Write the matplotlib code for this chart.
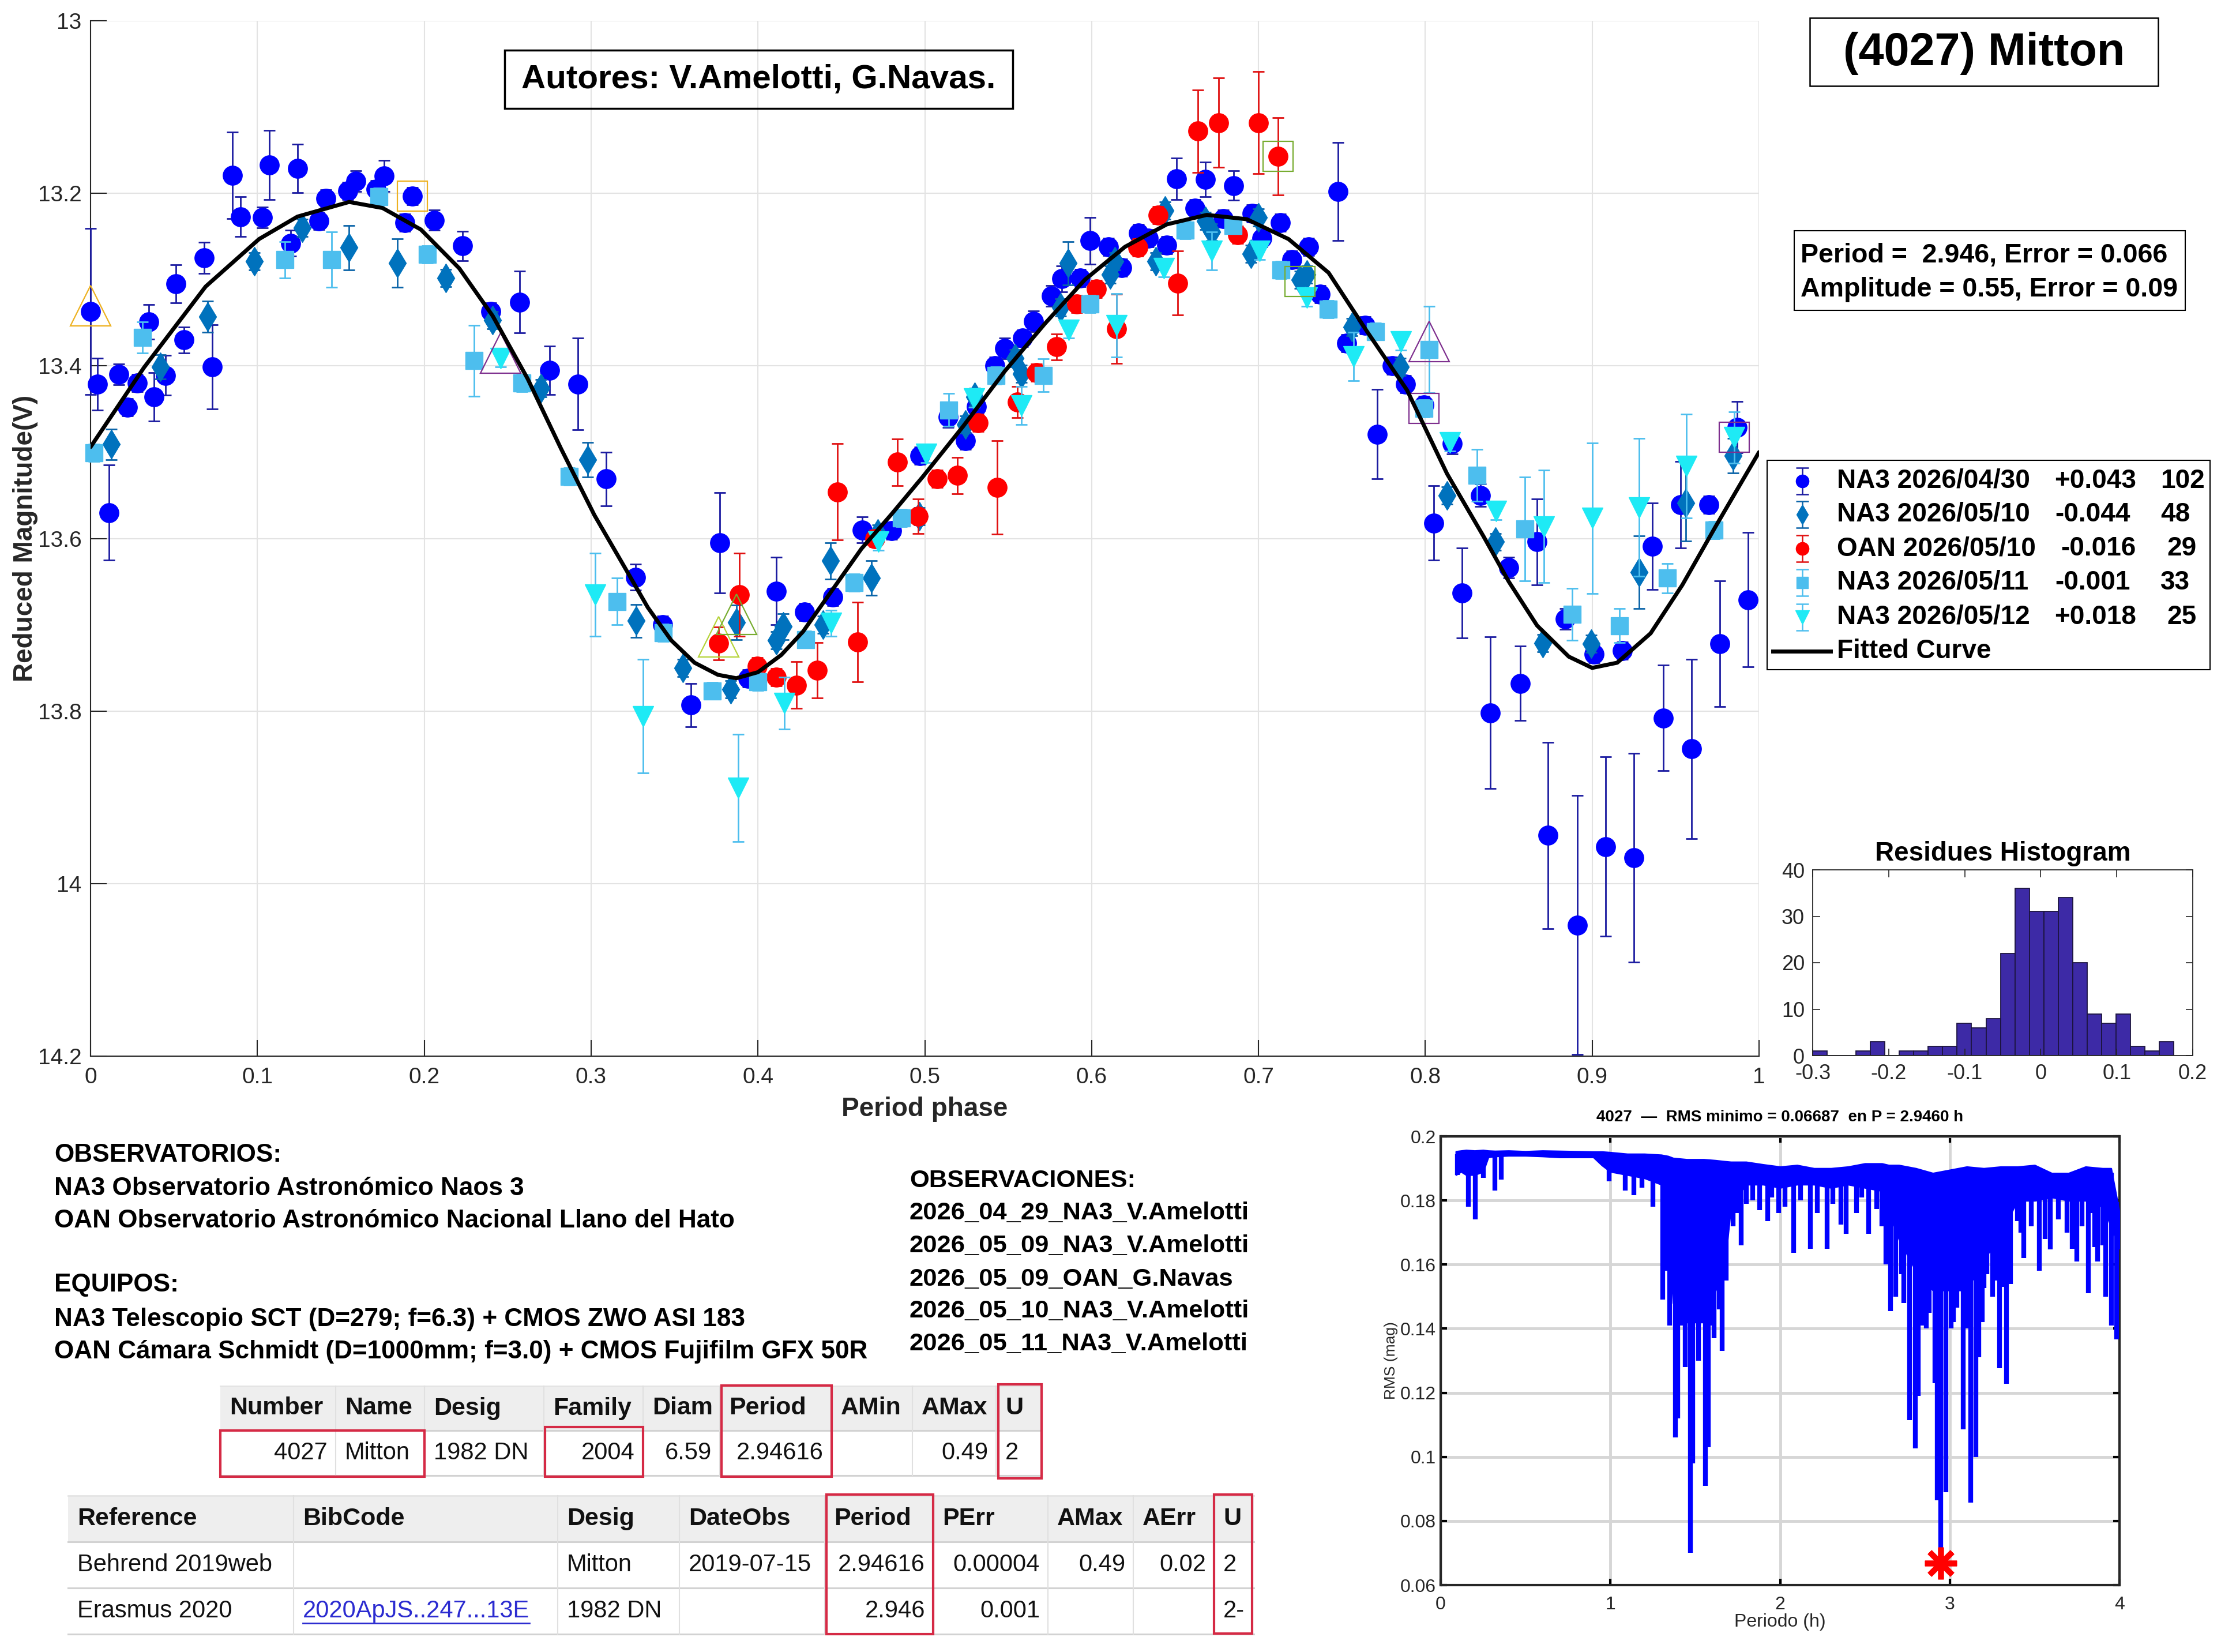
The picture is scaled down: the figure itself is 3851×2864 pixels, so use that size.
import numpy as np
import matplotlib
matplotlib.use("Agg")
import matplotlib.pyplot as plt
from matplotlib import font_manager as fm
from matplotlib.patches import Rectangle

# ======================= DATA =======================
# NA3 2026/04/30 (blue circles)
s1_phase = [0.000, 0.004, 0.011, 0.017, 0.022, 0.028, 0.035, 0.038, 0.045, 0.051,
            0.056, 0.068, 0.073, 0.085, 0.090, 0.103, 0.107, 0.120, 0.124, 0.137,
            0.141, 0.154, 0.159, 0.171, 0.176, 0.1885, 0.193, 0.206, 0.223, 0.240,
            0.257, 0.275, 0.292, 0.309, 0.3265, 0.343, 0.360, 0.377, 0.394, 0.411,
            0.428, 0.445, 0.4625, 0.480, 0.497, 0.514, 0.5245, 0.531, 0.542, 0.548,
            0.5585, 0.565, 0.576, 0.582, 0.593, 0.599, 0.610, 0.618, 0.628, 0.634,
            0.645, 0.651, 0.662, 0.668, 0.679, 0.685, 0.696, 0.702, 0.713, 0.720,
            0.730, 0.737, 0.7475, 0.753, 0.764, 0.771, 0.780, 0.788, 0.799, 0.805,
            0.816, 0.822, 0.833, 0.839, 0.850, 0.857, 0.867, 0.8735, 0.884, 0.891,
            0.901, 0.908, 0.918, 0.925, 0.936, 0.9425, 0.953, 0.9595, 0.970, 0.9765,
            0.987, 0.9935]
s1_mag = [13.337, 13.421, 13.570, 13.410, 13.448, 13.420, 13.349, 13.436, 13.411, 13.305,
          13.370, 13.275, 13.401, 13.179, 13.227, 13.228, 13.167, 13.258, 13.171, 13.232,
          13.206, 13.197, 13.186, 13.195, 13.180, 13.234, 13.203, 13.231, 13.261, 13.337,
          13.326, 13.405, 13.421, 13.531, 13.645, 13.700, 13.793, 13.605, 13.762, 13.661,
          13.685, 13.668, 13.590, 13.591, 13.504, 13.459, 13.487, 13.447, 13.400, 13.380,
          13.368, 13.348, 13.319, 13.299, 13.298, 13.255, 13.262, 13.286, 13.246, 13.252,
          13.260, 13.183, 13.217, 13.184, 13.229, 13.191, 13.223, 13.252, 13.234, 13.277,
          13.262, 13.317, 13.198, 13.374, 13.353, 13.479, 13.400, 13.421, 13.445, 13.582,
          13.490, 13.663, 13.550, 13.802, 13.634, 13.768, 13.604, 13.944, 13.693, 14.048,
          13.734, 13.957, 13.730, 13.970, 13.609, 13.808, 13.561, 13.844, 13.561, 13.722,
          13.471, 13.671]
s1_err = [0.096, 0.03, 0.055, 0.012, 0.01, 0.01, 0.02, 0.028, 0.023, 0.022,
          0.015, 0.018, 0.049, 0.05, 0.023, 0.012, 0.04, 0.015, 0.028, 0.01,
          0.01, 0.01, 0.012, 0.01, 0.018, 0.01, 0.01, 0.012, 0.017, 0.01,
          0.036, 0.028, 0.053, 0.031, 0.015, 0.01, 0.025, 0.058, 0.01, 0.039,
          0.01, 0.01, 0.015, 0.01, 0.01, 0.012, 0.01, 0.01, 0.01, 0.012,
          0.01, 0.012, 0.012, 0.015, 0.01, 0.027, 0.01, 0.01, 0.01, 0.01,
          0.01, 0.024, 0.01, 0.02, 0.01, 0.017, 0.01, 0.01, 0.01, 0.01,
          0.01, 0.01, 0.057, 0.01, 0.01, 0.052, 0.01, 0.01, 0.01, 0.043,
          0.012, 0.052, 0.013, 0.088, 0.012, 0.043, 0.05, 0.108, 0.012, 0.15,
          0.01, 0.104, 0.01, 0.121, 0.05, 0.061, 0.05, 0.104, 0.01, 0.073,
          0.03, 0.078]

# NA3 2026/05/10 (diamonds)
s2_phase = [0.0126, 0.0417, 0.070, 0.098, 0.127, 0.155, 0.184, 0.213, 0.241, 0.270,
            0.298, 0.327, 0.355, 0.3836, 0.387, 0.411, 0.415, 0.439, 0.4435, 0.468,
            0.472, 0.4966, 0.5245, 0.530, 0.554, 0.558, 0.5815, 0.586, 0.611, 0.614,
            0.6386, 0.644, 0.668, 0.672, 0.6956, 0.700, 0.725, 0.729, 0.756, 0.785,
            0.813, 0.842, 0.8704, 0.8995, 0.928, 0.956, 0.9845]
s2_mag = [13.491, 13.401, 13.343, 13.279, 13.240, 13.263, 13.281, 13.298, 13.347, 13.426,
          13.509, 13.6955, 13.750, 13.775, 13.697, 13.718, 13.702, 13.700, 13.626, 13.646,
          13.594, 13.574, 13.468, 13.436, 13.391, 13.409, 13.332, 13.281, 13.294, 13.279,
          13.279, 13.220, 13.232, 13.245, 13.270, 13.228, 13.300, 13.294, 13.355, 13.401,
          13.550, 13.604, 13.7215, 13.722, 13.639, 13.559, 13.504]
s2_err = [0.018, 0.014, 0.018, 0.01, 0.01, 0.026, 0.028, 0.01, 0.01, 0.01,
          0.02, 0.019, 0.01, 0.01, 0.02, 0.01, 0.015, 0.01, 0.021, 0.02,
          0.01, 0.01, 0.01, 0.01, 0.01, 0.01, 0.01, 0.025, 0.01, 0.01,
          0.01, 0.01, 0.01, 0.01, 0.01, 0.01, 0.01, 0.01, 0.01, 0.01,
          0.01, 0.01, 0.01, 0.01, 0.042, 0.044, 0.02]

# OAN 2026/05/10 (red circles)
s3_phase = [0.3764, 0.389, 0.3995, 0.411, 0.423, 0.4355, 0.4476, 0.4597, 0.470, 0.4835,
            0.496, 0.5075, 0.5197, 0.532, 0.5434, 0.5556, 0.567, 0.579, 0.591, 0.603,
            0.615, 0.6277, 0.6398, 0.6515, 0.6637, 0.676, 0.6876, 0.6998, 0.7117]
s3_mag = [13.7215, 13.665, 13.748, 13.761, 13.770, 13.753, 13.546, 13.720, 13.600, 13.5115,
          13.5745, 13.531, 13.527, 13.466, 13.541, 13.442, 13.408, 13.378, 13.328, 13.311,
          13.357, 13.263, 13.2255, 13.304, 13.128, 13.118, 13.248, 13.118, 13.157]
s3_err = [0.019, 0.048, 0.01, 0.01, 0.027, 0.032, 0.056, 0.046, 0.01, 0.027,
          0.02, 0.01, 0.021, 0.01, 0.054, 0.018, 0.01, 0.015, 0.01, 0.01,
          0.04, 0.01, 0.01, 0.037, 0.048, 0.052, 0.01, 0.059, 0.045]

# NA3 2026/05/11 (light-blue squares)
s4_phase = [0.002, 0.031, 0.1164, 0.1445, 0.173, 0.2017, 0.230, 0.2586, 0.287, 0.3155,
            0.3434, 0.3727, 0.400, 0.4286, 0.4578, 0.486, 0.5143, 0.5427, 0.571, 0.599,
            0.656, 0.6847, 0.7133, 0.7417, 0.770, 0.799, 0.8024, 0.831, 0.8597, 0.888,
            0.9165, 0.945, 0.973]
s4_mag = [13.501, 13.367, 13.277, 13.277, 13.204, 13.271, 13.394, 13.420, 13.528, 13.673,
          13.7096, 13.7765, 13.766, 13.717, 13.651, 13.576, 13.451, 13.411, 13.411, 13.328,
          13.2425, 13.237, 13.289, 13.334, 13.360, 13.449, 13.381, 13.527, 13.589, 13.688,
          13.701, 13.646, 13.590]
s4_err = [0.01, 0.018, 0.021, 0.032, 0.01, 0.01, 0.041, 0.01, 0.01, 0.027,
          0.01, 0.01, 0.01, 0.01, 0.01, 0.01, 0.019, 0.01, 0.019, 0.01,
          0.01, 0.01, 0.01, 0.01, 0.01, 0.01, 0.05, 0.03, 0.06, 0.03,
          0.02, 0.017, 0.01]

# NA3 2026/05/12 (cyan down triangles)
s5_phase = [0.2457, 0.3026, 0.331, 0.3882, 0.416, 0.444, 0.4723, 0.501, 0.5294, 0.558,
            0.5864, 0.615, 0.6434, 0.672, 0.7005, 0.729, 0.757, 0.7854, 0.8146, 0.8425,
            0.871, 0.900, 0.928, 0.9566, 0.9852]
s5_mag = [13.391, 13.665, 13.806, 13.889, 13.791, 13.698, 13.604, 13.502, 13.438, 13.446,
          13.358, 13.353, 13.287, 13.267, 13.267, 13.321, 13.389, 13.372, 13.489, 13.568,
          13.586, 13.5766, 13.564, 13.516, 13.483]
s5_err = [0.01, 0.048, 0.066, 0.062, 0.03, 0.015, 0.01, 0.01, 0.01, 0.022,
          0.01, 0.037, 0.01, 0.022, 0.01, 0.01, 0.028, 0.01, 0.01, 0.01,
          0.065, 0.087, 0.08, 0.06, 0.03]

series_names = ['NA3 2026/04/30', 'NA3 2026/05/10', 'OAN 2026/05/10',
                'NA3 2026/05/11', 'NA3 2026/05/12']
series_offsets = ['+0.043', '-0.044', '-0.016', '-0.001', '+0.018']
series_counts = ['102', '48', '29', '33', '25']

# highlighted (open) markers
hl_phase = [0.000, 0.193, 0.2457, 0.3764, 0.387, 0.7117, 0.725, 0.8024, 0.799, 0.985]
hl_mag = [13.330, 13.203, 13.385, 13.714, 13.688, 13.157, 13.302, 13.372, 13.449, 13.483]
hl_marker = ['^', 's', '^', '^', '^', 's', 's', '^', 's', 's']
hl_color = ['#EDB120', '#EDB120', '#7E2F8E', '#B5D33A', '#77AC30',
            '#77AC30', '#77AC30', '#7E2F8E', '#7E2F8E', '#7E2F8E']

# fitted curve
fit_phase = [0.000, 0.032, 0.069, 0.101, 0.124, 0.155, 0.175, 0.198, 0.221, 0.241,
             0.262, 0.282, 0.302, 0.320, 0.334, 0.348, 0.362, 0.376, 0.387, 0.400,
             0.414, 0.427, 0.443, 0.462, 0.480, 0.499, 0.523, 0.548, 0.572, 0.596,
             0.620, 0.645, 0.669, 0.693, 0.718, 0.742, 0.765, 0.789, 0.813, 0.835,
             0.850, 0.867, 0.886, 0.900, 0.915, 0.935, 0.954, 0.974, 1.000]
fit_mag = [13.494, 13.402, 13.308, 13.253, 13.227, 13.210, 13.217, 13.242, 13.287, 13.342,
           13.415, 13.496, 13.573, 13.633, 13.680, 13.718, 13.744, 13.758, 13.762, 13.755,
           13.735, 13.708, 13.664, 13.612, 13.572, 13.528, 13.470, 13.406, 13.351, 13.300,
           13.262, 13.236, 13.225, 13.230, 13.253, 13.292, 13.360, 13.428, 13.525, 13.598,
           13.650, 13.701, 13.737, 13.750, 13.744, 13.710, 13.654, 13.586, 13.500]

period_text = ['Period =  2.946, Error = 0.066', 'Amplitude = 0.55, Error = 0.09']
object_title = '(4027) Mitton'
authors = 'Autores: V.Amelotti, G.Navas.'

# residues histogram
hist_counts = [1, 0, 0, 1, 3, 0, 1, 1, 2, 2, 7, 6, 8, 22, 36, 31, 31, 34, 20, 9, 7, 9, 2, 1, 3]
hist_start = -0.3
hist_width = 0.019

# RMS periodogram: dense band (top / lower edge) plus individual dips
per_env = [0.09, 0.12, 0.15, 0.2, 0.25, 0.28, 0.32, 0.4, 0.5, 0.6,
           0.7, 0.8, 0.9, 0.95, 1.0, 1.1, 1.2, 1.3, 1.34, 1.37,
           1.45, 1.55, 1.62, 1.67, 1.71, 1.8, 1.9, 2.0, 2.1, 2.2,
           2.3, 2.4, 2.5, 2.6, 2.64, 2.7, 2.8, 2.9, 3.0, 3.1,
           3.2, 3.3, 3.36, 3.4, 3.5, 3.6, 3.7, 3.8, 3.9, 3.95, 4.0]
rms_top = [0.1953, 0.1955, 0.1957, 0.1955, 0.1957, 0.1955, 0.1954, 0.1955, 0.1953, 0.1955,
           0.1954, 0.1953, 0.1952, 0.1952, 0.1950, 0.1945, 0.1945, 0.1942, 0.1938, 0.1932,
           0.1928, 0.1928, 0.1925, 0.1922, 0.1920, 0.1920, 0.1912, 0.1905, 0.1910, 0.1900,
           0.1900, 0.1905, 0.1915, 0.1915, 0.1910, 0.1910, 0.1900, 0.1885, 0.1895, 0.1905,
           0.1900, 0.1905, 0.1905, 0.1905, 0.1910, 0.1885, 0.1885, 0.1905, 0.1900, 0.1900, 0.1760]
rms_band = [0.188, 0.189, 0.188, 0.188, 0.189, 0.1935, 0.1938, 0.1940, 0.1940, 0.1938,
            0.1935, 0.1935, 0.1935, 0.1910, 0.1890, 0.1880, 0.1870, 0.1850, 0.1700, 0.1480,
            0.1420, 0.1420, 0.1520, 0.1580, 0.1780, 0.1850, 0.1850, 0.1840, 0.1850, 0.1850,
            0.1840, 0.1850, 0.1840, 0.1830, 0.1760, 0.1680, 0.1580, 0.1520, 0.1520, 0.1520,
            0.1620, 0.1680, 0.1760, 0.1800, 0.1800, 0.1810, 0.1800, 0.1800, 0.1780, 0.1720, 0.1650]
spike_per = [0.098, 0.163, 0.205, 0.25, 0.319, 0.358, 0.992, 1.089, 1.138, 1.187,
             1.252, 1.307, 1.333, 1.350, 1.382, 1.398, 1.420, 1.440, 1.470, 1.486,
             1.519, 1.520, 1.561, 1.577, 1.600, 1.610, 1.640, 1.659, 1.681, 1.724,
             1.750, 1.772, 1.800, 1.837, 1.880, 1.928, 1.950, 1.993, 2.030, 2.081,
             2.120, 2.179, 2.220, 2.276, 2.310, 2.358, 2.390, 2.450, 2.480, 2.520,
             2.569, 2.600, 2.624, 2.650, 2.680, 2.715, 2.730, 2.764, 2.797, 2.813,
             2.840, 2.862, 2.880, 2.911, 2.927, 2.946, 2.976, 3.008, 3.020, 3.040,
             3.080, 3.100, 3.122, 3.154, 3.171, 3.190, 3.203, 3.220, 3.252, 3.270,
             3.294, 3.310, 3.333, 3.340, 3.359, 3.398, 3.420, 3.437, 3.480, 3.528,
             3.560, 3.593, 3.640, 3.691, 3.720, 3.750, 3.780, 3.815, 3.840, 3.854,
             3.870, 3.900, 3.919, 3.951, 3.984]
spike_rms = [0.188, 0.178, 0.174, 0.187, 0.183, 0.1865, 0.186, 0.183, 0.1816, 0.184,
             0.178, 0.149, 0.158, 0.141, 0.106, 0.112, 0.141, 0.128, 0.070, 0.098,
             0.130, 0.141, 0.091, 0.103, 0.141, 0.137, 0.146, 0.133, 0.155, 0.172,
             0.176, 0.166, 0.179, 0.180, 0.177, 0.1735, 0.181, 0.176, 0.178, 0.1636,
             0.180, 0.165, 0.176, 0.165, 0.179, 0.1724, 0.1695, 0.176, 0.181, 0.1695,
             0.1774, 0.172, 0.160, 0.1454, 0.150, 0.157, 0.148, 0.1115, 0.1027, 0.119,
             0.141, 0.140, 0.145, 0.123, 0.0865, 0.0667, 0.089, 0.140, 0.142, 0.1465,
             0.1085, 0.140, 0.0857, 0.100, 0.131, 0.142, 0.1526, 0.157, 0.150, 0.155,
             0.1276, 0.153, 0.1228, 0.163, 0.154, 0.1735, 0.170, 0.162, 0.172, 0.158,
             0.168, 0.1647, 0.174, 0.170, 0.165, 0.161, 0.172, 0.151, 0.176, 0.1655,
             0.161, 0.166, 0.150, 0.141, 0.1366]
best_period = 2.946
best_rms = 0.06687
asteroid_number = '4027'

# text blocks
observatorios = ['NA3 Observatorio Astronómico Naos 3',
                 'OAN Observatorio Astronómico Nacional Llano del Hato']
equipos = ['NA3 Telescopio SCT (D=279; f=6.3) + CMOS ZWO ASI 183',
           'OAN Cámara Schmidt (D=1000mm; f=3.0) + CMOS Fujifilm GFX 50R']
observaciones = ['2026_04_29_NA3_V.Amelotti', '2026_05_09_NA3_V.Amelotti',
                 '2026_05_09_OAN_G.Navas', '2026_05_10_NA3_V.Amelotti',
                 '2026_05_11_NA3_V.Amelotti']

# tables
t1_header = ['Number', 'Name', 'Desig', 'Family', 'Diam', 'Period', 'AMin', 'AMax', 'U']
t1_row = ['4027', 'Mitton', '1982 DN', '2004', '6.59', '2.94616', '', '0.49', '2']
t2_header = ['Reference', 'BibCode', 'Desig', 'DateObs', 'Period', 'PErr', 'AMax', 'AErr', 'U']
t2_rows = [['Behrend 2019web', '', 'Mitton', '2019-07-15', '2.94616', '0.00004', '0.49', '0.02', '2'],
           ['Erasmus 2020', '2020ApJS..247...13E', '1982 DN', '', '2.946', '0.001', '', '', '2-']]

# ======================= FIGURE =======================
W, H, DPI = 3851, 2864, 100
_names = {f.name for f in fm.fontManager.ttflist}


def pick(*cands):
    for c in cands:
        if c in _names:
            return c
    return 'DejaVu Sans'


ARIAL = pick('Liberation Sans', 'Arimo', 'DejaVu Sans')
NARROW = pick('Liberation Sans Narrow', 'Liberation Sans', 'DejaVu Sans')
plt.rcParams['font.family'] = [NARROW, 'DejaVu Sans']
DARK = '#262626'

fig = plt.figure(figsize=(W / DPI, H / DPI), dpi=DPI, facecolor='white')
renderer = fig.canvas.get_renderer()


def rect_px(x0, y0, x1, y1):
    return [x0 / W, 1 - y1 / H, (x1 - x0) / W, (y1 - y0) / H]


# ---------------- main light-curve axes ----------------
ax = fig.add_axes(rect_px(157, 36, 3050, 1831))
styles = [
    dict(fmt='o', ms=24, mfc='#0000FF', mec='#0000FF', ecolor='#1B1BA0'),
    dict(fmt='d', ms=25, mfc='#0072BD', mec='#0072BD', ecolor='#0A64A8'),
    dict(fmt='o', ms=24, mfc='#FF0000', mec='#FF0000', ecolor='#E01010'),
    dict(fmt='s', ms=21, mfc='#4DBEEE', mec='#4DBEEE', ecolor='#4DBEEE'),
    dict(fmt='v', ms=26, mfc='#1EEAF5', mec='#1EEAF5', ecolor='#4DBEEE'),
]
all_series = [(s1_phase, s1_mag, s1_err), (s2_phase, s2_mag, s2_err),
              (s3_phase, s3_mag, s3_err), (s4_phase, s4_mag, s4_err),
              (s5_phase, s5_mag, s5_err)]
for i, ((ph, mg, er), st) in enumerate(zip(all_series, styles)):
    ax.errorbar(ph, mg, yerr=er, elinewidth=2, capsize=7, capthick=2,
                zorder=3 + i, clip_on=False, **st)
for p, m, mk, c in zip(hl_phase, hl_mag, hl_marker, hl_color):
    ax.plot([p], [m], linestyle='none', marker=mk, ms=50 if mk == '^' else 37,
            mfc='none', mec=c, mew=1.6, zorder=15, clip_on=False)
ax.plot(fit_phase, fit_mag, color='black', lw=5, zorder=20, solid_capstyle='round')

ax.set_xlim(0, 1)
ax.set_ylim(14.2, 13.0)
ax.set_xticks(np.arange(0, 1.01, 0.1))
ax.set_xticklabels(['0', '0.1', '0.2', '0.3', '0.4', '0.5', '0.6', '0.7', '0.8', '0.9', '1'])
ax.set_yticks([13.0, 13.2, 13.4, 13.6, 13.8, 14.0, 14.2])
ax.set_yticklabels(['13', '13.2', '13.4', '13.6', '13.8', '14', '14.2'])
ax.grid(True, color='#E3E3E3', lw=1.5)
ax.set_axisbelow(True)
for sp in ['top', 'right']:
    ax.spines[sp].set_visible(False)
for sp in ['left', 'bottom']:
    ax.spines[sp].set_color(DARK)
    ax.spines[sp].set_linewidth(1.5)
ax.tick_params(direction='in', length=20, width=1.5, colors=DARK, labelsize=28)
ax.tick_params(axis='x', pad=14)
ax.tick_params(axis='y', pad=11)
ax.set_xlabel('Period phase', family=ARIAL, fontweight='bold', fontsize=33,
              color=DARK, va='center')
ax.xaxis.set_label_coords(0.5, -0.0513)
ax.set_ylabel('Reduced Magnitude(V)', family=ARIAL, fontweight='bold', fontsize=33,
              color=DARK, va='center')
ax.yaxis.set_label_coords(-0.039, 0.5)

# ---------------- residues histogram ----------------
hax = fig.add_axes(rect_px(3143, 1508, 3802, 1830))
hist_left = [hist_start + i * hist_width for i in range(len(hist_counts))]
hax.bar(hist_left, hist_counts, width=hist_width, align='edge',
        color='#3D2AA6', edgecolor='#1C1440', lw=1.3)
hax.set_xlim(-0.3, 0.2)
hax.set_ylim(0, 40)
hax.set_xticks([-0.3, -0.2, -0.1, 0, 0.1, 0.2])
hax.set_xticklabels(['-0.3', '-0.2', '-0.1', '0', '0.1', '0.2'])
hax.set_yticks([0, 10, 20, 30, 40])
hax.tick_params(direction='in', length=9, width=1.2, colors=DARK, labelsize=26,
                top=True, right=True)
hax.tick_params(axis='x', pad=10)
hax.tick_params(axis='y', pad=10)
for sp in hax.spines.values():
    sp.set_color(DARK)
    sp.set_linewidth(1.3)
hax.text(0.5, 1.088, 'Residues Histogram', transform=hax.transAxes, ha='center',
         va='center', family=ARIAL, fontweight='bold', fontsize=33, color='black')

# ---------------- RMS periodogram ----------------
pax = fig.add_axes(rect_px(2498, 1970, 3675, 2748))
pax.fill_between(per_env, rms_band, rms_top, color='#0000FF', lw=2, zorder=3)
spk_top = np.interp(spike_per, per_env, rms_top) - 0.001
pax.vlines(spike_per, spike_rms, spk_top, color='#0000FF', lw=6, zorder=3)
pax.plot([best_period], [best_rms], linestyle='none', marker=(8, 2, 0), ms=40,
         mec='#FF0000', mew=7, zorder=5, clip_on=False)
pax.set_xlim(0, 4)
pax.set_ylim(0.06, 0.2)
pax.set_xticks([0, 1, 2, 3, 4])
pax.set_yticks([0.06, 0.08, 0.10, 0.12, 0.14, 0.16, 0.18, 0.20])
pax.set_yticklabels(['0.06', '0.08', '0.1', '0.12', '0.14', '0.16', '0.18', '0.2'])
pax.grid(True, color='#D6D6D6', lw=3.5)
pax.set_axisbelow(True)
pax.tick_params(direction='in', length=8, width=3, colors='black', labelsize=23,
                top=True, right=True, labelcolor=DARK)
pax.tick_params(axis='x', pad=14)
pax.tick_params(axis='y', pad=6)
for sp in pax.spines.values():
    sp.set_color(DARK)
    sp.set_linewidth(3)
pax.text(0.5, 1.0 + 33 / 778,
         f'{asteroid_number}  \u2014  RMS minimo = {best_rms:.5f}  en P = {best_period:.4f} h',
         transform=pax.transAxes, ha='center', va='center', fontweight='bold',
         fontsize=20, color='black')
pax.set_xlabel('Periodo (h)', fontsize=23, color=DARK, va='center')
pax.xaxis.set_label_coords(0.5, -0.082)
pax.set_ylabel('RMS (mag)', family=ARIAL, fontsize=19, color=DARK, va='center')
pax.yaxis.set_label_coords(-0.073, 0.5)

# ---------------- overlay (boxes, texts, tables) ----------------
ov = fig.add_axes([0, 0, 1, 1], zorder=10)
ov.set_xlim(0, W)
ov.set_ylim(H, 0)
ov.axis('off')


def box(x0, y0, x1, y1, lw=1.5, ec='black', fc='none', z=1):
    ov.add_patch(Rectangle((x0, y0), x1 - x0, y1 - y0, lw=lw, ec=ec, fc=fc, zorder=z))


def width_of(t):
    return t.get_window_extent(renderer=renderer).width


def fitted_size(s, target, size=30, **kw):
    t = ov.text(0, 0, s, fontsize=size, **kw)
    w = width_of(t)
    t.remove()
    return size * target / w


# title box
box(3138, 31, 3742, 149, lw=1.8)
ov.text(3440, 92, object_title, ha='center', va='center', family=ARIAL,
        fontweight='bold', fontsize=57, color='black')

# authors box
box(875, 87, 1756, 188, lw=2.5)
fs = fitted_size(authors, 822, family=ARIAL, fontweight='bold')
ov.text(1315, 138, authors, ha='center', va='center', family=ARIAL,
        fontweight='bold', fontsize=fs, color='black')

# period box
box(3111, 400, 3789, 538, lw=1.5)
fs = fitted_size(period_text[1], 654, family=ARIAL, fontweight='bold')
for yy, s in zip([443, 502], period_text):
    ov.text(3122, yy, s, ha='left', va='center', family=ARIAL, fontweight='bold',
            fontsize=fs, color='black')

# legend
box(3064, 798, 3832, 1161, lw=1.5)
row_y = [834, 892, 951, 1010, 1070, 1129]
off_x = [3562, 3563, 3573, 3563, 3562]
cnt_x = [3746, 3746, 3757, 3746, 3757]
leg_ms = [16, 17, 16, 14, 17]
for i, st in enumerate(styles):
    ov.errorbar([3125], [row_y[i]], yerr=[23], fmt=st['fmt'], ms=leg_ms[i],
                mfc=st['mfc'], mec=st['mec'], ecolor=st['ecolor'], elinewidth=1.8,
                capsize=8, capthick=1.8)
    ov.text(3185, row_y[i], series_names[i], ha='left', va='center', family=ARIAL,
            fontweight='bold', fontsize=33, color='black')
    ov.text(off_x[i], row_y[i], series_offsets[i], ha='left', va='center', family=ARIAL,
            fontweight='bold', fontsize=33, color='black')
    ov.text(cnt_x[i], row_y[i], series_counts[i], ha='left', va='center', family=ARIAL,
            fontweight='bold', fontsize=33, color='black')
ov.plot([3074, 3174], [row_y[5], row_y[5]], color='black', lw=5)
ov.text(3185, row_y[5], 'Fitted Curve', ha='left', va='center', family=ARIAL,
        fontweight='bold', fontsize=33, color='black')

# left info block
fs = fitted_size(observatorios[1], 1182, family=ARIAL, fontweight='bold')
left_lines = [('OBSERVATORIOS:', 2003), (observatorios[0], 2060), (observatorios[1], 2117),
              ('EQUIPOS:', 2228), (equipos[0], 2287), (equipos[1], 2343)]
for s, yy in left_lines:
    ov.text(94, yy, s, ha='left', va='center', family=ARIAL, fontweight='bold',
            fontsize=fs, color='black')

# observaciones block
fs = fitted_size(observaciones[0], 587, family=ARIAL, fontweight='bold')
ov.text(1577, 2047, 'OBSERVACIONES:', ha='left', va='center', family=ARIAL,
        fontweight='bold', fontsize=fs, color='black')
for s, yy in zip(observaciones, [2103, 2160, 2218, 2273, 2330]):
    ov.text(1577, yy, s, ha='left', va='center', family=ARIAL, fontweight='bold',
            fontsize=fs, color='black')


# tables
def draw_table(col_x, row_edges, header, rows, aligns, fsz=30):
    x0, x1 = col_x[0], col_x[-1]
    ov.add_patch(Rectangle((x0, row_edges[0]), x1 - x0, row_edges[1] - row_edges[0],
                           fc='#EEEEEE', ec='none', zorder=1))
    for yy in row_edges[1:]:
        ov.plot([x0, x1], [yy, yy], color='#D2D2D2', lw=2.2, zorder=2)
    ov.plot([x0, x1], [row_edges[0], row_edges[0]], color='#E4E4E4', lw=2, zorder=2)
    for xx in col_x[1:-1]:
        ov.plot([xx, xx], [row_edges[0], row_edges[-1]], color='#E0E0E0', lw=1.5, zorder=2)
    yc = (row_edges[0] + row_edges[1]) / 2
    for j, h in enumerate(header):
        ov.text(col_x[j] + 16, yc, h, ha='left', va='center', family=ARIAL,
                fontweight='bold', fontsize=fsz + 1, color='#111111', zorder=3)
    texts = []
    for r, row in enumerate(rows):
        yc = (row_edges[r + 1] + row_edges[r + 2]) / 2
        for j, v in enumerate(row):
            if not v:
                continue
            if aligns[j] == 'r':
                t = ov.text(col_x[j + 1] - 14, yc, v, ha='right', va='center',
                            family=ARIAL, fontsize=fsz, color='#111111', zorder=3)
            else:
                t = ov.text(col_x[j] + 16, yc, v, ha='left', va='center',
                            family=ARIAL, fontsize=fsz, color='#111111', zorder=3)
            texts.append((r, j, t))
    return texts


t1_cols = [382, 582, 736, 943, 1115, 1248, 1442, 1582, 1727, 1806]
draw_table(t1_cols, [2403, 2480, 2558], t1_header, [t1_row],
           ['r', 'l', 'l', 'r', 'r', 'r', 'r', 'r', 'l'])
t2_cols = [118, 509, 967, 1178, 1430, 1618, 1817, 1965, 2105, 2174]
t2_texts = draw_table(t2_cols, [2593, 2673, 2753, 2833], t2_header, t2_rows,
                      ['l', 'l', 'l', 'l', 'r', 'r', 'r', 'r', 'l'])
for r, j, t in t2_texts:
    if j == 1:
        t.set_color('#2B2BD0')
        bb = t.get_window_extent(renderer=renderer)
        uy = H - bb.y0 + 1
        ov.plot([bb.x0, bb.x1], [uy, uy], color='#2B2BD0', lw=2, zorder=3)

red = '#D52A45'
for (x0, y0, x1, y1) in [(382, 2480, 736, 2560), (945, 2474, 1115, 2560),
                         (1251, 2402, 1442, 2560), (1731, 2400, 1806, 2563),
                         (1433, 2591, 1618, 2833), (2105, 2591, 2171, 2832)]:
    box(x0, y0, x1, y1, lw=3, ec=red, z=4)

fig.savefig('out.png', dpi=DPI, facecolor='white')
